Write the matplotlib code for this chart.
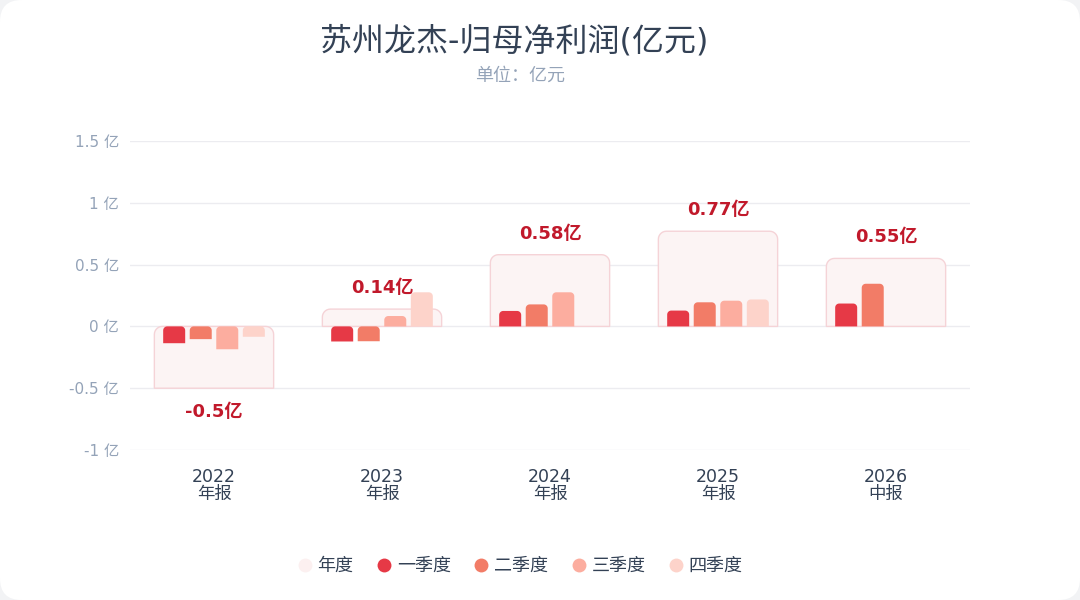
import numpy as np
import matplotlib
matplotlib.use('Agg')
import matplotlib.pyplot as plt
from matplotlib.patches import Polygon, FancyBboxPatch
from matplotlib.lines import Line2D

plt.rcParams['font.family'] = ['DejaVu Sans', 'Noto Sans CJK SC']

years = ['2022', '2023', '2024', '2025', '2026']
periods = ['年报', '年报', '年报', '年报', '中报']
annual = [-0.50, 0.14, 0.58, 0.77, 0.55]
q1 = [-0.136, -0.122, 0.125, 0.128, 0.185]
q2 = [-0.103, -0.120, 0.178, 0.195, 0.345]
q3 = [-0.185, 0.084, 0.276, 0.208, 0.0]
q4 = [-0.084, 0.276, 0.0, 0.218, 0.0]
quarter_names = ['一季度', '二季度', '三季度', '四季度']
yticks = [-1, -0.5, 0, 0.5, 1, 1.5]
ytick_labels = ['-1 亿', '-0.5 亿', '0 亿', '0.5 亿', '1 亿', '1.5 亿']

q_colors = ['#e63946', '#f27c67', '#fcad9f', '#fdd3ca']
annual_fill = '#fcf4f4'
annual_edge = '#f5d3d7'
label_color = '#c1192b'
text_dark = '#334155'
text_grey = '#94a3b8'

W, H = 1080, 600
fig = plt.figure(figsize=(W / 100, H / 100), dpi=100, facecolor='#f2f3f5')
card = FancyBboxPatch((0, 0), 1, 1, boxstyle='round,pad=0,rounding_size=0.02',
                      transform=fig.transFigure, facecolor='white', edgecolor='none',
                      mutation_aspect=W / H, zorder=-10)
fig.patches.append(card)

left, right, top, bottom = 130, 970, 141, 450
ax = fig.add_axes([left / W, 1 - bottom / H, (right - left) / W, (bottom - top) / H])
ax.set_facecolor('none')
ax.set_xlim(-0.5, 4.5)
ax.set_ylim(-1, 1.5)
px_x = (right - left) / 5.0
px_y = (bottom - top) / 2.5


def rounded_top(x0, width, value, r_px, **kw):
    y_hi, y_lo = max(0, value), min(0, value)
    h_px = (y_hi - y_lo) * px_y
    r = min(r_px, h_px, width * px_x / 2)
    rx, ry = r / px_x, r / px_y
    x1 = x0 + width
    pts = [(x0, y_lo)]
    t = np.linspace(np.pi, np.pi / 2, 8)
    pts += list(zip(x0 + rx + rx * np.cos(t), y_hi - ry + ry * np.sin(t)))
    t = np.linspace(np.pi / 2, 0, 8)
    pts += list(zip(x1 - rx + rx * np.cos(t), y_hi - ry + ry * np.sin(t)))
    pts.append((x1, y_lo))
    ax.add_patch(Polygon(pts, closed=True, **kw))


for v in yticks:
    ax.axhline(v, color='#ececf0', lw=1, zorder=0)

annual_w = 0.71
step, bar_w = 0.158, 0.131
x = np.arange(len(years))
for i in x:
    rounded_top(i - annual_w / 2, annual_w, annual[i], 8,
                facecolor=annual_fill, edgecolor=annual_edge, lw=1, zorder=1)
    for k, q in enumerate([q1, q2, q3, q4]):
        if q[i] == 0:
            continue
        rounded_top(i + (k - 1.5) * step - bar_w / 2, bar_w, q[i], 4,
                    facecolor=q_colors[k], edgecolor='none', zorder=2)
    off = 21 if annual[i] >= 0 else -24
    ax.annotate(f'{annual[i]:g}亿', (i, annual[i]), xytext=(0, off),
                textcoords='offset pixels', ha='center', va='center',
                fontsize=13, fontweight='bold', color=label_color, zorder=3)

for s in ax.spines.values():
    s.set_visible(False)
ax.set_yticks(yticks)
ax.set_yticklabels(ytick_labels, fontsize=11, color=text_grey)
ax.set_xticks(x)
ax.set_xticklabels([f'{y}\n{p}' for y, p in zip(years, periods)],
                   fontsize=12.5, color=text_dark, linespacing=0.95)
ax.tick_params(axis='both', length=0)
ax.tick_params(axis='y', pad=8)
ax.tick_params(axis='x', pad=13)

fig.text(514 / W, 1 - 42 / H, '苏州龙杰-归母净利润(亿元)', ha='center', va='center',
         fontsize=23, color=text_dark)
fig.text(520 / W, 1 - 76 / H, '单位：亿元', ha='center', va='center',
         fontsize=13, color=text_grey)

handles = [Line2D([], [], ls='none', marker='o', markersize=10,
                  markerfacecolor='#fcf0f0', markeredgecolor='none')]
handles += [Line2D([], [], ls='none', marker='o', markersize=10,
                   markerfacecolor=c, markeredgecolor='none') for c in q_colors]
leg = fig.legend(handles, ['年度'] + quarter_names, loc='center', ncol=5,
                 bbox_to_anchor=(0.480, 1 - 566 / H), frameon=False,
                 fontsize=13, handletextpad=0.1, columnspacing=1.1,
                 handlelength=1.2)
for t in leg.get_texts():
    t.set_color(text_dark)

fig.savefig('out.png', dpi=100, facecolor=fig.get_facecolor())
